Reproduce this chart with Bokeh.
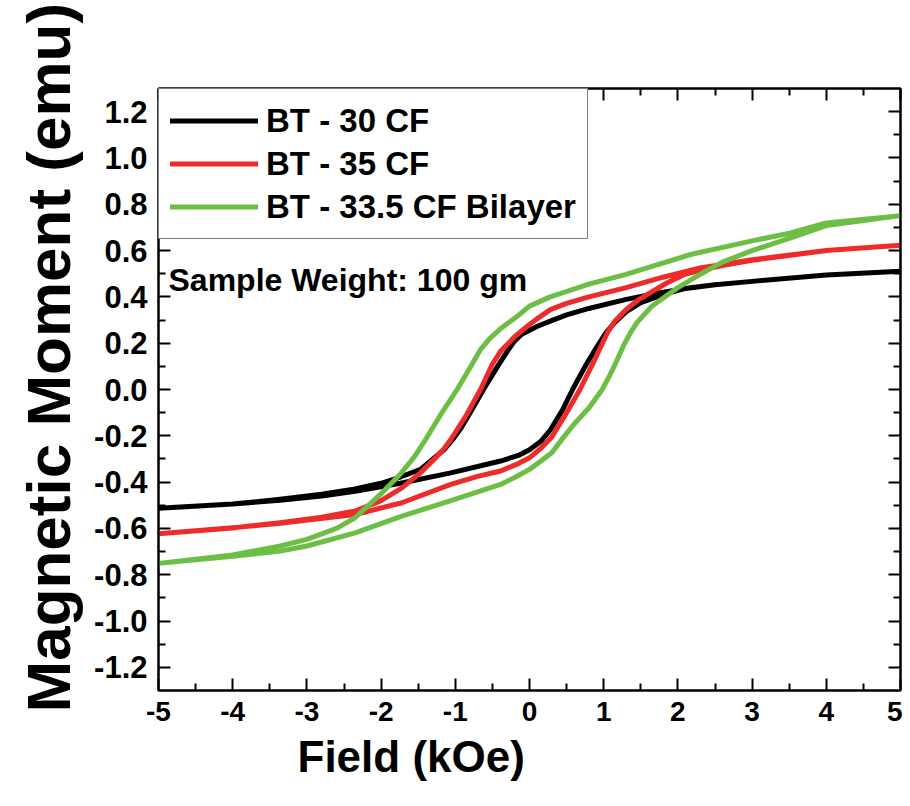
from bokeh.plotting import figure
from bokeh.models import (Range1d, FixedTicker, LinearAxis, Legend, LegendItem, Label, Title,
                          ColumnDataSource, PrintfTickFormatter)
from bokeh.embed import file_html
from bokeh.resources import INLINE

# ---------------- data ----------------
# BT - 30 CF : ascending branch (-5 -> 5) and descending branch (5 -> -5)
bt30_asc_x = [-5, -4, -3.36, -2.8, -2.35, -1.74, -1.06, -0.6, -0.39, -0.15, 0.0, 0.15, 0.28, 0.45, 0.58, 0.75, 0.9, 1.03, 1.15, 1.3, 1.5, 1.8, 2.08, 2.5, 3.0, 4.0, 5.0]
bt30_asc_y = [-0.513, -0.495, -0.478, -0.46, -0.44, -0.405, -0.36, -0.325, -0.309, -0.285, -0.26, -0.225, -0.175, -0.085, 0.0, 0.1, 0.18, 0.245, 0.29, 0.335, 0.375, 0.41, 0.435, 0.452, 0.467, 0.495, 0.511]
bt30_desc_x = [5.0, 4.0, 3.0, 2.5, 2.17, 1.7, 1.29, 0.8, 0.5, 0.28, 0.1, -0.1, -0.2, -0.3, -0.43, -0.62, -0.8, -0.92, -1.02, -1.15, -1.3, -1.47, -1.74, -2.0, -2.35, -2.8, -3.36, -4.0, -5.0]
bt30_desc_y = [0.511, 0.495, 0.467, 0.452, 0.44, 0.415, 0.388, 0.35, 0.322, 0.295, 0.272, 0.24, 0.21, 0.165, 0.10, 0.0, -0.10, -0.165, -0.21, -0.26, -0.30, -0.345, -0.378, -0.405, -0.43, -0.452, -0.474, -0.495, -0.513]

# BT - 35 CF
bt35_asc_x = [-5, -4, -3.36, -2.35, -1.72, -1.06, -0.7, -0.39, -0.15, 0.0, 0.15, 0.3, 0.5, 0.68, 0.85, 1.05, 1.15, 1.3, 1.47, 1.63, 1.85, 2.08, 2.3, 2.6, 3.0, 4.0, 5.0]
bt35_asc_y = [-0.623, -0.597, -0.578, -0.54, -0.489, -0.41, -0.375, -0.352, -0.32, -0.295, -0.255, -0.205, -0.1, 0.0, 0.11, 0.245, 0.295, 0.345, 0.388, 0.418, 0.46, 0.496, 0.515, 0.535, 0.558, 0.60, 0.623]
bt35_desc_x = [5.0, 4.0, 3.0, 2.3, 1.8, 1.29, 0.8, 0.5, 0.28, 0.1, -0.03, -0.2, -0.39, -0.5, -0.66, -0.85, -1.06, -1.15, -1.25, -1.47, -1.72, -2.0, -2.35, -2.8, -3.36, -4.0, -5.0]
bt35_desc_y = [0.623, 0.60, 0.561, 0.525, 0.485, 0.439, 0.40, 0.372, 0.345, 0.305, 0.273, 0.228, 0.165, 0.11, 0.0, -0.11, -0.216, -0.255, -0.29, -0.36, -0.425, -0.48, -0.525, -0.552, -0.575, -0.598, -0.623]

# BT - 33.5 CF Bilayer
bil_asc_x = [-5, -4, -3.36, -3.0, -2.35, -1.72, -1.06, -0.39, -0.2, 0.0, 0.15, 0.3, 0.45, 0.6, 0.8, 0.98, 1.08, 1.17, 1.26, 1.36, 1.45, 1.55, 1.65, 1.77, 2.0, 2.26, 2.6, 3.0, 3.52, 4.0, 5.0]
bil_asc_y = [-0.751, -0.72, -0.698, -0.676, -0.619, -0.547, -0.48, -0.41, -0.38, -0.345, -0.31, -0.273, -0.21, -0.15, -0.08, 0.0, 0.06, 0.12, 0.185, 0.245, 0.29, 0.325, 0.36, 0.388, 0.44, 0.49, 0.55, 0.60, 0.655, 0.708, 0.751]
bil_desc_x = [5.0, 4.0, 3.52, 3.0, 2.17, 1.29, 0.8, 0.28, 0.0, -0.166, -0.4, -0.53, -0.66, -0.8, -0.975, -1.2, -1.4, -1.55, -1.74, -2.0, -2.35, -2.6, -3.0, -3.36, -4.0, -5.0]
bil_desc_y = [0.751, 0.719, 0.676, 0.642, 0.583, 0.496, 0.455, 0.40, 0.36, 0.316, 0.26, 0.222, 0.173, 0.095, 0.0, -0.11, -0.216, -0.29, -0.365, -0.45, -0.554, -0.60, -0.647, -0.676, -0.715, -0.751]

series_names = ["BT - 30 CF", "BT - 35 CF", "BT - 33.5 CF Bilayer"]
series_colors = ["#000000", "#ED2B2B", "#6DBE45"]

x_ticks = [-5, -4, -3, -2, -1, 0, 1, 2, 3, 4, 5]
x_tick_labels = ["-5", "-4", "-3", "-2", "-1", "0", "1", "2", "3", "4", "5"]
y_ticks = [-1.2, -1.0, -0.8, -0.6, -0.4, -0.2, 0.0, 0.2, 0.4, 0.6, 0.8, 1.0, 1.2]
y_tick_labels = ["-1.2", "-1.0", "-0.8", "-0.6", "-0.4", "-0.2", "0.0", "0.2", "0.4", "0.6", "0.8", "1.0", "1.2"]
x_minor = [-4.5, -3.5, -2.5, -1.5, -0.5, 0.5, 1.5, 2.5, 3.5, 4.5]
y_minor = [-1.1, -0.9, -0.7, -0.5, -0.3, -0.1, 0.1, 0.3, 0.5, 0.7, 0.9, 1.1]

x_title = "Field (kOe)"
y_title = "Magnetic Moment (emu)"
note_text = "Sample Weight: 100 gm"

FONT = "Liberation Sans"

# ---------------- figure ----------------
p = figure(frame_width=742, frame_height=602,
           x_range=Range1d(-5, 5), y_range=Range1d(-1.3, 1.3),
           output_backend="svg", toolbar_location=None,
           min_border_left=158, min_border_top=88, min_border_right=2, min_border_bottom=108)
p.grid.visible = False
p.outline_line_color = "black"
p.outline_line_width = 2
p.background_fill_color = "white"
p.border_fill_color = "white"

xt = FixedTicker(ticks=x_ticks, minor_ticks=x_minor)
yt = FixedTicker(ticks=y_ticks, minor_ticks=y_minor)

def style_axis(ax, size, standoff, visible_labels=True):
    ax.major_tick_in = 12
    ax.major_tick_out = 0
    ax.minor_tick_in = 7
    ax.minor_tick_out = 0
    ax.axis_line_width = 2
    ax.axis_line_color = "black"
    ax.major_tick_line_width = 2
    ax.minor_tick_line_width = 2
    ax.major_tick_line_color = "black"
    ax.minor_tick_line_color = "black"
    ax.major_label_text_font = FONT
    ax.major_label_text_font_style = "bold"
    ax.major_label_text_font_size = size
    ax.major_label_standoff = standoff
    ax.major_label_text_color = "black" if visible_labels else None

xa = p.xaxis[0]
xa.ticker = xt
xa.major_label_overrides = {t: s for t, s in zip(x_ticks, x_tick_labels)}
style_axis(xa, "28px", 11)

ya = p.yaxis[0]
ya.ticker = yt
ya.formatter = PrintfTickFormatter(format="%.1f")
ya.major_label_overrides = {t: s for t, s in zip(y_ticks, y_tick_labels)}
style_axis(ya, "31px", 11)

ra = LinearAxis(ticker=yt)
style_axis(ra, "1px", 0, visible_labels=False)
p.add_layout(ra, "right")
ta = LinearAxis(ticker=xt)
style_axis(ta, "1px", 0, visible_labels=False)
p.add_layout(ta, "above")

# ---------------- curves ----------------
loops = [
    (bt30_asc_x + bt30_desc_x, bt30_asc_y + bt30_desc_y),
    (bt35_asc_x + bt35_desc_x, bt35_asc_y + bt35_desc_y),
    (bil_asc_x + bil_desc_x, bil_asc_y + bil_desc_y),
]
items = []
for (lx, ly), name, col in zip(loops, series_names, series_colors):
    src = ColumnDataSource(data=dict(x=lx, y=ly))
    r = p.line("x", "y", source=src, line_color=col, line_width=5,
               line_join="round", line_cap="round")
    items.append(LegendItem(label=name, renderers=[r]))

legend = Legend(items=items, location="top_left", margin=0, padding=11, spacing=2,
                glyph_width=88, glyph_height=41, label_height=41, label_standoff=8,
                border_line_color="black", border_line_width=1.5,
                background_fill_color="white", background_fill_alpha=1.0,
                label_text_font=FONT, label_text_font_style="bold",
                label_text_font_size="33px", label_text_color="black")
p.add_layout(legend)

# ---------------- texts ----------------
p.add_layout(Label(x=-4.865, y=0.475, text=note_text, text_font=FONT,
                   text_font_style="bold", text_font_size="32px", text_color="black",
                   text_align="left", text_baseline="middle"))

xtitle = Title(text=x_title, align="left", offset=139, standoff=12,
               text_font=FONT, text_font_style="bold", text_font_size="44px",
               text_color="black")
p.add_layout(xtitle, "below")

ytitle = Title(text=y_title, align="left", offset=-22, standoff=17,
               text_font=FONT, text_font_style="bold", text_font_size="62px",
               text_color="black")
p.add_layout(ytitle, "left")

open("out.html", "w").write(file_html(p, INLINE))
